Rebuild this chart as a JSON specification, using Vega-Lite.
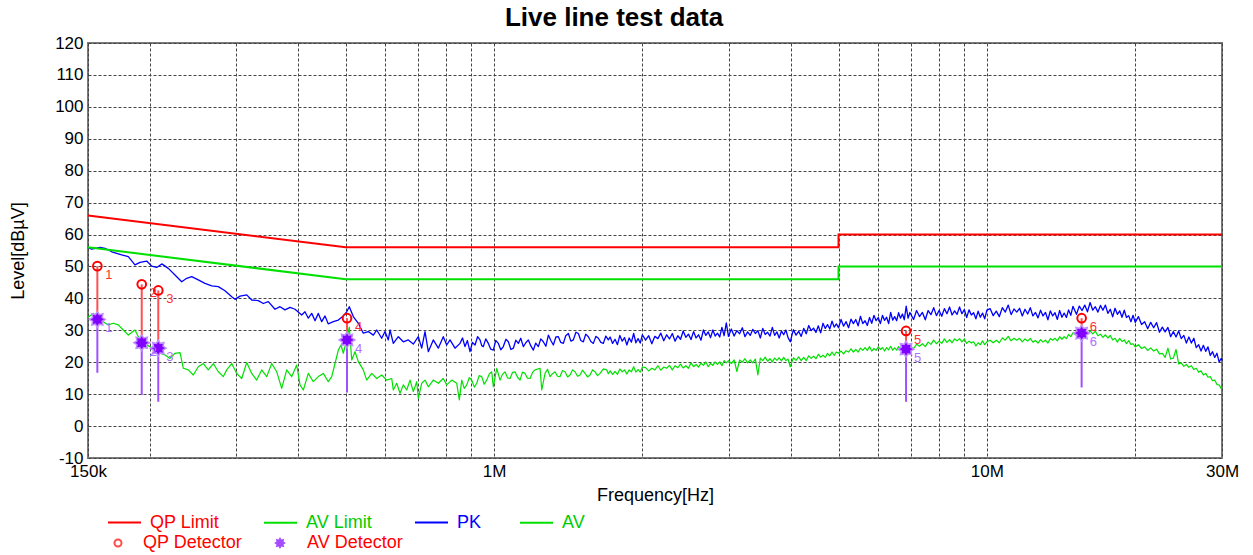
{
  "$schema": "https://vega.github.io/schema/vega-lite/v6.json",
  "width": 1134,
  "height": 415,
  "autosize": {"type": "none"},
  "padding": {"left": 88, "top": 43, "right": 31, "bottom": 97},
  "background": "white",
  "title": {"text": "Live line test data", "fontSize": 26, "font": "Liberation Sans", "fontWeight": "bold", "color": "#000000", "anchor": "middle", "frame": "group", "dx": -41, "offset": 3},
  "config": {
    "view": {"stroke": "#7a7a7a", "strokeWidth": 2},
    "font": "Liberation Sans",
    "axis": {"grid": true, "gridDash": [3, 2], "gridColor": "#444444", "gridOpacity": 1, "gridWidth": 1, "ticks": false, "domain": false, "labelFont": "Liberation Sans", "labelFontSize": 17, "labelColor": "#000000", "titleFont": "Liberation Sans", "titleFontSize": 18, "titleFontWeight": "normal", "titleColor": "#000000"},
    "legend": {"labelFont": "Liberation Sans", "labelFontSize": 18, "title": null, "padding": 0, "orient": "none", "direction": "horizontal"}
  },
  "datasets": {
    "lim": [
      {"s": "QP Limit", "i": 0, "f": 0.15, "v": 66}, {"s": "QP Limit", "i": 1, "f": 0.5, "v": 56}, {"s": "QP Limit", "i": 2, "f": 5, "v": 56}, {"s": "QP Limit", "i": 3, "f": 5, "v": 60}, {"s": "QP Limit", "i": 4, "f": 30, "v": 60},
      {"s": "AV Limit", "i": 0, "f": 0.15, "v": 56}, {"s": "AV Limit", "i": 1, "f": 0.5, "v": 46}, {"s": "AV Limit", "i": 2, "f": 5, "v": 46}, {"s": "AV Limit", "i": 3, "f": 5, "v": 50}, {"s": "AV Limit", "i": 4, "f": 30, "v": 50}
    ],
    "det": [
      {"n": "1", "f": 0.1567, "qp": 50.1, "av": 33.4, "lo": 16.7},
      {"n": "2", "f": 0.1928, "qp": 44.4, "av": 26.1, "lo": 9.7},
      {"n": "3", "f": 0.2083, "qp": 42.5, "av": 24.4, "lo": 7.6},
      {"n": "4", "f": 0.5031, "qp": 33.8, "av": 27.0, "lo": 10.5},
      {"n": "5", "f": 6.855, "qp": 29.8, "av": 24.1, "lo": 7.6},
      {"n": "6", "f": 15.57, "qp": 33.8, "av": 29.1, "lo": 12.1}
    ],
    "tr": [
      {"f":0.15,"p":56.0},{"f":0.1526,"p":55.4},{"f":0.1587,"p":56.0},{"f":0.1624,"p":55.7},{"f":0.1676,"p":54.6},{"f":0.1756,"p":53.6},{"f":0.1811,"p":53.1},{"f":0.1868,"p":50.5},{"f":0.1913,"p":51.3},{"f":0.1973,"p":51.7},{"f":0.202,"p":50.1},{"f":0.2068,"p":49.7},{"f":0.2117,"p":50.8},{"f":0.2183,"p":49.4},{"f":0.2252,"p":47.3},{"f":0.2324,"p":45.2},{"f":0.2379,"p":46.3},{"f":0.2435,"p":46.8},{"f":0.2511,"p":45.8},{"f":0.2591,"p":44.7},{"f":0.2674,"p":43.9},{"f":0.2757,"p":43.7},{"f":0.2845,"p":42.4},{"f":0.2936,"p":40.5},{"f":0.2981,"p":39.7},{"f":0.3052,"p":40.7},{"f":0.3149,"p":41.1},{"f":0.3223,"p":39.5},{"f":0.3324,"p":39.3},{"f":0.3403,"p":38.4},{"f":0.3483,"p":39.0},{"f":0.3594,"p":36.6},{"f":0.3679,"p":37.4},{"f":0.3766,"p":36.4},{"f":0.3855,"p":37.2},{"f":0.3946,"p":36.6},{"f":0.4071,"p":34.8},{"f":0.4134,"p":35.8},{"f":0.4199,"p":33.8},{"f":0.4266,"p":35.3},{"f":0.4333,"p":33.0},{"f":0.44,"p":35.3},{"f":0.447,"p":32.7},{"f":0.454,"p":34.5},{"f":0.461,"p":32.0},{"f":0.4719,"p":32.7},{"f":0.4831,"p":33.2},{"f":0.4945,"p":34.5},{"f":0.5024,"p":35.8},{"f":0.5085,"p":37.4},{"f":0.5181,"p":34.3},{"f":0.5304,"p":32.2},{"f":0.5429,"p":29.1},{"f":0.5557,"p":29.6},{"f":0.5689,"p":28.5},{"f":0.578,"p":30.1},{"f":0.5916,"p":27.5},{"f":0.6008,"p":29.6},{"f":0.6102,"p":27.0},{"f":0.6151,"p":30.1},{"f":0.6246,"p":25.9},{"f":0.6394,"p":28.0},{"f":0.6545,"p":26.4},{"f":0.6699,"p":27.0},{"f":0.6858,"p":25.7},{"f":0.702,"p":28.0},{"f":0.7132,"p":24.4},{"f":0.7243,"p":29.6},{"f":0.7356,"p":23.3},{"f":0.7529,"p":27.0},{"f":0.7707,"p":24.4},{"f":0.7889,"p":28.0},{"f":0.8016,"p":25.4},{"f":0.8141,"p":27.0},{"f":0.8333,"p":24.4},{"f":0.853,"p":25.9},{"f":0.863,"p":27.6},{"f":0.8731,"p":24.9},{"f":0.883,"p":26.8},{"f":0.8938,"p":23.3},{"f":0.904,"p":26.2},{"f":0.915,"p":25.4},{"f":0.926,"p":28.0},{"f":0.9366,"p":27.0},{"f":0.944,"p":25.2},{"f":0.9511,"p":24.9},{"f":0.962,"p":27.3},{"f":0.9736,"p":25.9},{"f":0.985,"p":24.1},{"f":0.9966,"p":23.8},{"f":1.008,"p":26.8},{"f":1.0203,"p":25.9},{"f":1.032,"p":23.9},{"f":1.0444,"p":24.9},{"f":1.057,"p":27.2},{"f":1.0691,"p":26.4},{"f":1.082,"p":24.0},{"f":1.0944,"p":24.4},{"f":1.107,"p":26.9},{"f":1.1202,"p":25.9},{"f":1.133,"p":27.5},{"f":1.1467,"p":24.9},{"f":1.16,"p":26.1},{"f":1.1738,"p":27.0},{"f":1.187,"p":25.2},{"f":1.2016,"p":23.8},{"f":1.215,"p":26.0},{"f":1.23,"p":24.9},{"f":1.244,"p":27.3},{"f":1.259,"p":26.4},{"f":1.274,"p":25.0},{"f":1.2888,"p":28.5},{"f":1.304,"p":26.8},{"f":1.3193,"p":25.4},{"f":1.335,"p":27.9},{"f":1.3505,"p":28.0},{"f":1.366,"p":26.2},{"f":1.3824,"p":25.9},{"f":1.398,"p":28.3},{"f":1.4151,"p":29.0},{"f":1.432,"p":26.6},{"f":1.4485,"p":27.0},{"f":1.466,"p":29.4},{"f":1.4828,"p":29.0},{"f":1.5,"p":26.8},{"f":1.5178,"p":26.4},{"f":1.535,"p":28.8},{"f":1.5537,"p":28.0},{"f":1.572,"p":26.5},{"f":1.5904,"p":25.9},{"f":1.609,"p":28.1},{"f":1.628,"p":27.5},{"f":1.647,"p":26.2},{"f":1.6664,"p":25.9},{"f":1.686,"p":28.2},{"f":1.7058,"p":27.0},
      {"f":0.15,"a":34.1},{"f":0.1538,"a":35.3},{"f":0.1574,"a":33.7},{"f":0.1611,"a":32.7},{"f":0.1649,"a":31.7},{"f":0.1688,"a":32.2},{"f":0.1728,"a":31.7},{"f":0.1769,"a":30.1},{"f":0.1811,"a":28.5},{"f":0.1868,"a":30.1},{"f":0.1898,"a":28.0},{"f":0.1942,"a":25.9},{"f":0.2004,"a":24.9},{"f":0.2051,"a":23.3},{"f":0.21,"a":22.8},{"f":0.215,"a":22.3},{"f":0.22,"a":21.2},{"f":0.2252,"a":22.8},{"f":0.2306,"a":23.0},{"f":0.2342,"a":18.1},{"f":0.2397,"a":17.6},{"f":0.2453,"a":16.0},{"f":0.2511,"a":18.6},{"f":0.2571,"a":19.6},{"f":0.2631,"a":17.6},{"f":0.2694,"a":19.6},{"f":0.2757,"a":17.0},{"f":0.2823,"a":15.5},{"f":0.2868,"a":17.6},{"f":0.2936,"a":19.6},{"f":0.3005,"a":16.5},{"f":0.3076,"a":14.9},{"f":0.3149,"a":19.9},{"f":0.3223,"a":16.5},{"f":0.3299,"a":14.4},{"f":0.3377,"a":17.6},{"f":0.3457,"a":15.5},{"f":0.3539,"a":19.6},{"f":0.3623,"a":17.0},{"f":0.3708,"a":11.8},{"f":0.3796,"a":17.6},{"f":0.3886,"a":15.5},{"f":0.3977,"a":19.1},{"f":0.4039,"a":12.9},{"f":0.4102,"a":11.3},{"f":0.4199,"a":16.5},{"f":0.4298,"a":13.9},{"f":0.44,"a":15.5},{"f":0.4504,"a":16.5},{"f":0.461,"a":13.9},{"f":0.4684,"a":15.5},{"f":0.4757,"a":19.6},{"f":0.4831,"a":23.8},{"f":0.4892,"a":25.4},{"f":0.4945,"a":22.8},{"f":0.5024,"a":27.0},{"f":0.5085,"a":31.0},{"f":0.5143,"a":20.7},{"f":0.5223,"a":23.3},{"f":0.5304,"a":20.2},{"f":0.5429,"a":17.6},{"f":0.5516,"a":14.4},{"f":0.5647,"a":16.5},{"f":0.578,"a":14.9},{"f":0.5916,"a":16.0},{"f":0.6057,"a":14.4},{"f":0.62,"a":14.9},{"f":0.6246,"a":11.3},{"f":0.6346,"a":13.4},{"f":0.6445,"a":10.3},{"f":0.6545,"a":12.9},{"f":0.665,"a":11.3},{"f":0.6753,"a":14.4},{"f":0.6858,"a":10.8},{"f":0.6968,"a":13.9},{"f":0.702,"a":8.7},{"f":0.7132,"a":13.4},{"f":0.7243,"a":14.4},{"f":0.7356,"a":12.3},{"f":0.7529,"a":14.4},{"f":0.7707,"a":13.4},{"f":0.7889,"a":14.9},{"f":0.8016,"a":12.9},{"f":0.8206,"a":14.4},{"f":0.84,"a":13.4},{"f":0.8503,"a":8.2},{"f":0.8599,"a":14.4},{"f":0.87,"a":11.8},{"f":0.8802,"a":12.9},{"f":0.891,"a":15.2},{"f":0.901,"a":14.4},{"f":0.912,"a":12.2},{"f":0.9223,"a":13.4},{"f":0.933,"a":15.8},{"f":0.9441,"a":15.5},{"f":0.955,"a":13.1},{"f":0.9664,"a":14.4},{"f":0.978,"a":16.3},{"f":0.9893,"a":17.0},{"f":0.9966,"a":12.3},{"f":1.0127,"a":18.1},{"f":1.0284,"a":14.4},{"f":1.04,"a":16.2},{"f":1.0527,"a":17.0},{"f":1.065,"a":15.1},{"f":1.0776,"a":14.9},{"f":1.09,"a":16.8},{"f":1.1031,"a":17.0},{"f":1.116,"a":15.3},{"f":1.1292,"a":14.4},{"f":1.142,"a":16.9},{"f":1.1559,"a":16.5},{"f":1.169,"a":15.0},{"f":1.1832,"a":14.9},{"f":1.197,"a":16.8},{"f":1.2112,"a":17.6},{"f":1.2398,"a":18.1},{"f":1.2497,"a":11.3},{"f":1.2691,"a":16.5},{"f":1.284,"a":17.8},{"f":1.2991,"a":15.5},{"f":1.314,"a":16.4},{"f":1.3298,"a":17.0},{"f":1.345,"a":15.6},{"f":1.3612,"a":15.5},{"f":1.377,"a":17.4},{"f":1.3934,"a":17.0},{"f":1.41,"a":15.4},{"f":1.4264,"a":16.0},{"f":1.443,"a":17.6},{"f":1.46,"a":17.0},{"f":1.477,"a":15.6},{"f":1.4946,"a":16.0},{"f":1.512,"a":17.5},{"f":1.5299,"a":16.5},{"f":1.548,"a":15.4},{"f":1.5661,"a":16.0},{"f":1.585,"a":17.6},{"f":1.6031,"a":17.0},{"f":1.622,"a":15.8},{"f":1.641,"a":16.5},{"f":1.667,"a":17.9},{"f":1.6931,"a":17.6},{"f":1.706,"a":16.4},
      {"f":1.72,"p":27.9,"a":17.3},{"f":1.74,"p":25.9,"a":16.2},{"f":1.76,"p":27.2,"a":17.1},{"f":1.78,"p":25.5,"a":16.2},{"f":1.8,"p":28.4,"a":17.9},{"f":1.82,"p":26.6,"a":17.0},{"f":1.84,"p":27.7,"a":17.6},{"f":1.86,"p":25.4,"a":16.3},{"f":1.88,"p":27.6,"a":17.6},{"f":1.9,"p":26.3,"a":17.0},{"f":1.92,"p":29.0,"a":18.6},{"f":1.94,"p":26.1,"a":16.9},{"f":1.96,"p":27.4,"a":17.7},{"f":1.98,"p":26.0,"a":16.9},{"f":2.0,"p":28.6,"a":18.5},
      {"f":2.03,"p":26.9,"a":18.3},{"f":2.06,"p":28.3,"a":17.3},{"f":2.09,"p":25.8,"a":18.1},{"f":2.12,"p":28.1,"a":17.6},{"f":2.15,"p":27.4,"a":18.9},{"f":2.18,"p":29.1,"a":17.5},{"f":2.21,"p":26.7,"a":18.5},{"f":2.24,"p":28.6,"a":18.1},{"f":2.27,"p":27.3,"a":19.0},{"f":2.3,"p":29.0,"a":17.6},{"f":2.33,"p":26.6,"a":18.9},{"f":2.36,"p":28.3,"a":18.3},{"f":2.39,"p":27.2,"a":19.4},{"f":2.42,"p":29.8,"a":18.2},{"f":2.45,"p":27.8,"a":18.9},{"f":2.48,"p":28.8,"a":18.1},{"f":2.51,"p":27.1,"a":19.8},{"f":2.54,"p":29.6,"a":18.6},{"f":2.57,"p":27.6,"a":19.3},{"f":2.6,"p":28.6,"a":18.5},{"f":2.63,"p":26.9,"a":19.7},{"f":2.66,"p":30.1,"a":19.0},{"f":2.69,"p":28.4,"a":20.1},{"f":2.72,"p":29.5,"a":18.6},{"f":2.75,"p":27.7,"a":19.6},{"f":2.78,"p":30.1,"a":19.0},{"f":2.81,"p":28.2,"a":20.1},{"f":2.84,"p":29.1,"a":19.3},{"f":2.87,"p":27.9,"a":20.1},{"f":2.9,"p":30.9,"a":18.9},{"f":2.93,"p":28.3,"a":20.5},{"f":2.96,"p":32.3,"a":19.8},{"f":2.99,"p":28.1,"a":20.5},
      {"f":3.03,"p":30.4,"a":19.6},{"f":3.07,"p":28.2,"a":20.7},{"f":3.11,"p":29.9,"a":17.1},{"f":3.15,"p":28.9,"a":20.7},{"f":3.19,"p":30.8,"a":20.0},{"f":3.23,"p":28.0,"a":21.1},{"f":3.27,"p":29.5,"a":19.8},{"f":3.31,"p":28.4,"a":20.7},{"f":3.35,"p":30.3,"a":19.8},{"f":3.39,"p":29.0,"a":21.0},{"f":3.43,"p":29.9,"a":16.0},{"f":3.47,"p":27.6,"a":21.3},{"f":3.51,"p":30.6,"a":20.5},{"f":3.55,"p":28.7,"a":21.6},{"f":3.59,"p":29.4,"a":20.3},{"f":3.63,"p":28.2,"a":21.1},{"f":3.67,"p":30.9,"a":20.1},{"f":3.71,"p":28.4,"a":21.3},{"f":3.75,"p":29.5,"a":20.6},{"f":3.79,"p":27.6,"a":21.4},{"f":3.83,"p":29.8,"a":20.4},{"f":3.87,"p":28.6,"a":21.5},{"f":3.91,"p":30.1,"a":20.5},{"f":3.95,"p":27.7,"a":21.0},{"f":3.99,"p":26.4,"a":18.6},
      {"f":4.05,"p":30.2,"a":21.4},{"f":4.1,"p":28.5,"a":20.6},{"f":4.15,"p":29.7,"a":21.7},{"f":4.2,"p":28.1,"a":20.5},{"f":4.25,"p":30.6,"a":21.5},{"f":4.3,"p":28.9,"a":20.5},{"f":4.35,"p":31.5,"a":22.0},{"f":4.4,"p":29.9,"a":21.2},{"f":4.45,"p":30.7,"a":21.9},{"f":4.5,"p":29.3,"a":21.1},{"f":4.55,"p":31.4,"a":22.5},{"f":4.6,"p":29.2,"a":21.6},{"f":4.65,"p":32.2,"a":22.2},{"f":4.7,"p":30.6,"a":21.5},{"f":4.75,"p":31.8,"a":22.8},{"f":4.8,"p":30.4,"a":22.0},{"f":4.85,"p":32.9,"a":23.2},{"f":4.9,"p":31.0,"a":22.1},{"f":4.95,"p":32.0,"a":23.2},{"f":5.0,"p":30.8,"a":22.8},
      {"f":5.06,"p":33.4,"a":23.5},{"f":5.12,"p":31.3,"a":22.6},{"f":5.18,"p":32.7,"a":23.6},{"f":5.24,"p":30.8,"a":23.2},{"f":5.3,"p":33.5,"a":24.2},{"f":5.36,"p":32.1,"a":23.2},{"f":5.42,"p":33.4,"a":24.0},{"f":5.48,"p":31.4,"a":23.2},{"f":5.54,"p":34.4,"a":24.4},{"f":5.6,"p":32.1,"a":23.7},{"f":5.66,"p":33.0,"a":24.6},{"f":5.72,"p":31.5,"a":23.7},{"f":5.78,"p":34.0,"a":24.9},{"f":5.84,"p":32.2,"a":23.5},{"f":5.9,"p":34.7,"a":24.3},{"f":5.96,"p":33.0,"a":23.7},{"f":6.02,"p":34.0,"a":24.8},{"f":6.08,"p":32.1,"a":24.0},{"f":6.14,"p":34.7,"a":24.6},{"f":6.2,"p":33.1,"a":23.5},{"f":6.26,"p":34.1,"a":24.6},{"f":6.32,"p":32.1,"a":23.9},{"f":6.38,"p":35.6,"a":25.0},{"f":6.44,"p":33.2,"a":23.8},{"f":6.5,"p":34.3,"a":24.5},{"f":6.56,"p":33.0,"a":23.8},{"f":6.62,"p":35.5,"a":24.9},{"f":6.68,"p":33.8,"a":24.1},{"f":6.74,"p":35.1,"a":25.1},{"f":6.8,"p":33.3,"a":24.3},{"f":6.86,"p":37.6,"a":24.9},{"f":6.92,"p":33.8,"a":24.1},{"f":6.98,"p":35.6,"a":24.9},
      {"f":7.1,"p":33.4,"a":24.3},{"f":7.2,"p":36.2,"a":25.6},{"f":7.3,"p":34.3,"a":25.0},{"f":7.4,"p":35.6,"a":25.8},{"f":7.5,"p":33.3,"a":24.9},{"f":7.6,"p":36.2,"a":26.3},{"f":7.7,"p":34.9,"a":25.6},{"f":7.8,"p":37.1,"a":26.9},{"f":7.9,"p":34.6,"a":25.8},{"f":8.0,"p":36.2,"a":26.6},{"f":8.1,"p":34.4,"a":25.9},{"f":8.2,"p":36.8,"a":27.3},{"f":8.3,"p":35.2,"a":26.2},{"f":8.4,"p":37.3,"a":27.1},{"f":8.5,"p":34.8,"a":26.1},{"f":8.6,"p":36.1,"a":27.3},{"f":8.7,"p":35.0,"a":26.7},{"f":8.8,"p":37.3,"a":27.4},{"f":8.9,"p":35.2,"a":26.4},{"f":9.0,"p":36.5,"a":27.3},{"f":9.1,"p":34.0,"a":25.9},{"f":9.2,"p":36.4,"a":26.6},{"f":9.3,"p":34.8,"a":26.0},{"f":9.4,"p":35.5,"a":26.4},{"f":9.5,"p":33.6,"a":25.1},{"f":9.6,"p":36.0,"a":26.1},{"f":9.7,"p":34.1,"a":25.5},{"f":9.8,"p":35.4,"a":26.7},{"f":9.9,"p":33.6,"a":25.5},{"f":10.0,"p":36.3,"a":26.4},
      {"f":10.15,"p":36.8,"a":26.9},{"f":10.3,"p":34.6,"a":26.1},{"f":10.45,"p":36.0,"a":26.9},{"f":10.6,"p":34.3,"a":26.1},{"f":10.75,"p":37.1,"a":27.6},{"f":10.9,"p":35.7,"a":26.9},{"f":11.05,"p":37.9,"a":28.1},{"f":11.2,"p":34.9,"a":26.7},{"f":11.35,"p":36.7,"a":27.5},{"f":11.5,"p":35.7,"a":26.9},{"f":11.65,"p":36.9,"a":27.5},{"f":11.8,"p":34.5,"a":26.4},{"f":11.95,"p":36.6,"a":27.3},{"f":12.1,"p":35.1,"a":26.6},{"f":12.25,"p":37.1,"a":27.5},{"f":12.4,"p":34.5,"a":26.3},{"f":12.55,"p":35.6,"a":26.8},{"f":12.7,"p":33.9,"a":26.0},{"f":12.85,"p":36.3,"a":27.1},{"f":13.0,"p":34.5,"a":26.3},{"f":13.15,"p":35.6,"a":26.9},{"f":13.3,"p":33.3,"a":26.0},{"f":13.45,"p":36.1,"a":27.4},{"f":13.6,"p":34.5,"a":26.9},{"f":13.75,"p":35.5,"a":27.5},{"f":13.9,"p":33.4,"a":26.7},{"f":14.05,"p":36.2,"a":28.0},{"f":14.2,"p":34.1,"a":27.2},{"f":14.35,"p":35.4,"a":28.0},{"f":14.5,"p":34.0,"a":27.4},{"f":14.65,"p":36.4,"a":28.7},{"f":14.8,"p":34.7,"a":28.0},{"f":14.95,"p":37.5,"a":29.2},
      {"f":15.2,"p":35.0,"a":28.4},{"f":15.4,"p":37.6,"a":29.5},{"f":15.6,"p":36.2,"a":28.9},{"f":15.8,"p":37.9,"a":29.9},{"f":16.0,"p":35.8,"a":28.8},{"f":16.2,"p":38.7,"a":29.8},{"f":16.4,"p":36.3,"a":28.9},{"f":16.6,"p":37.4,"a":29.7},{"f":16.8,"p":35.7,"a":28.3},{"f":17.0,"p":37.8,"a":28.8},{"f":17.2,"p":36.3,"a":27.8},{"f":17.4,"p":37.9,"a":28.6},{"f":17.6,"p":35.3,"a":27.6},{"f":17.8,"p":36.6,"a":28.4},{"f":18.0,"p":34.2,"a":27.0},{"f":18.2,"p":36.9,"a":27.5},{"f":18.4,"p":35.0,"a":26.3},{"f":18.6,"p":36.1,"a":27.5},{"f":18.8,"p":34.1,"a":26.5},{"f":19.0,"p":36.3,"a":27.0},{"f":19.2,"p":34.0,"a":25.8},{"f":19.4,"p":34.6,"a":26.8},{"f":19.6,"p":32.7,"a":25.6},{"f":19.8,"p":34.7,"a":25.8},{"f":20.0,"p":32.5,"a":24.8},
      {"f":20.3,"p":34.3,"a":25.5},{"f":20.6,"p":31.8,"a":24.3},{"f":20.9,"p":32.7,"a":24.8},{"f":21.2,"p":30.5,"a":23.7},{"f":21.5,"p":32.5,"a":24.5},{"f":21.8,"p":30.8,"a":23.5},{"f":22.1,"p":32.4,"a":24.1},{"f":22.4,"p":29.4,"a":22.6},{"f":22.7,"p":31.0,"a":22.8},{"f":23.0,"p":29.5,"a":21.5},{"f":23.3,"p":30.9,"a":24.4},{"f":23.6,"p":28.0,"a":21.0},{"f":23.9,"p":29.6,"a":21.3},{"f":24.2,"p":27.9,"a":24.0},{"f":24.5,"p":29.8,"a":19.5},{"f":24.8,"p":27.4,"a":19.8},{"f":25.1,"p":28.4,"a":18.7},{"f":25.4,"p":26.0,"a":19.3},{"f":25.7,"p":27.9,"a":18.4},{"f":26.0,"p":26.0,"a":18.9},{"f":26.3,"p":27.5,"a":17.7},{"f":26.6,"p":24.6,"a":18.1},{"f":26.9,"p":25.5,"a":16.9},{"f":27.2,"p":23.5,"a":17.3},{"f":27.5,"p":25.3,"a":16.0},{"f":27.8,"p":23.4,"a":16.5},{"f":28.1,"p":24.8,"a":15.3},{"f":28.4,"p":22.1,"a":15.5},{"f":28.7,"p":23.3,"a":14.2},{"f":29.0,"p":21.5,"a":14.4},{"f":29.3,"p":22.8,"a":13.0},{"f":29.6,"p":20.1,"a":12.9},{"f":29.9,"p":21.2,"a":11.7},{"f":30.0,"p":20.6,"a":11.8}
    ]
  },
  "layer": [
    {
      "data": {"name": "tr"},
      "transform": [{"filter": "isValid(datum.p)"}],
      "mark": {"type": "line", "strokeWidth": 1.3, "strokeJoin": "round", "color": "#0000ff"},
      "encoding": {
        "x": {"field": "f", "type": "quantitative", "scale": {"type": "log", "domain": [0.15, 30], "nice": false},
          "axis": {"title": "Frequency[Hz]", "values": [0.15, 0.2, 0.3, 0.4, 0.5, 0.6, 0.7, 0.8, 0.9, 1, 2, 3, 4, 5, 6, 7, 8, 9, 10, 20, 30], "tickCount": 40,
            "labelExpr": "datum.value == 0.15 ? '150k' : datum.value == 1 ? '1M' : datum.value == 10 ? '10M' : datum.value == 30 ? '30M' : ''",
            "labelFlush": false, "labelOverlap": false, "labelBound": false, "labelPadding": 5, "titlePadding": 7}},
        "y": {"field": "p", "type": "quantitative", "scale": {"domain": [-10, 120], "nice": false, "zero": false},
          "axis": {"title": "Level[dBµV]", "values": [-10, 0, 10, 20, 30, 40, 50, 60, 70, 80, 90, 100, 110, 120], "tickCount": 20, "labelExpr": "replace(datum.label, '−', '-')", "labelOverlap": false, "labelPadding": 5, "titlePadding": 27}}
      }
    },
    {
      "data": {"name": "tr"},
      "transform": [{"filter": "isValid(datum.a)"}],
      "mark": {"type": "line", "strokeWidth": 1.2, "strokeJoin": "round", "color": "#00e000"},
      "encoding": {
        "x": {"field": "f", "type": "quantitative"},
        "y": {"field": "a", "type": "quantitative"}
      }
    },
    {
      "data": {"name": "lim"},
      "transform": [{"filter": "datum.s == 'QP Limit'"}],
      "mark": {"type": "line", "strokeWidth": 2, "color": "#ff0000"},
      "encoding": {
        "x": {"field": "f", "type": "quantitative"},
        "y": {"field": "v", "type": "quantitative"},
        "order": {"field": "i", "type": "quantitative"}
      }
    },
    {
      "data": {"name": "lim"},
      "transform": [{"filter": "datum.s == 'AV Limit'"}],
      "mark": {"type": "line", "strokeWidth": 2, "color": "#00e000"},
      "encoding": {
        "x": {"field": "f", "type": "quantitative"},
        "y": {"field": "v", "type": "quantitative"},
        "order": {"field": "i", "type": "quantitative"}
      }
    },
    {
      "data": {"name": "det"},
      "mark": {"type": "rule", "color": "#ff5050", "strokeWidth": 2},
      "encoding": {
        "x": {"field": "f", "type": "quantitative"},
        "y": {"field": "qp", "type": "quantitative"},
        "y2": {"field": "av"}
      }
    },
    {
      "data": {"name": "det"},
      "mark": {"type": "rule", "color": "#a050ff", "strokeWidth": 2},
      "encoding": {
        "x": {"field": "f", "type": "quantitative"},
        "y": {"field": "av", "type": "quantitative"},
        "y2": {"field": "lo"}
      }
    },
    {
      "data": {"name": "det"},
      "mark": {"type": "point", "shape": "circle", "filled": false, "color": "#ff0000", "strokeWidth": 2, "size": 75, "opacity": 1},
      "encoding": {
        "x": {"field": "f", "type": "quantitative"},
        "y": {"field": "qp", "type": "quantitative"}
      }
    },
    {
      "data": {"name": "det"},
      "mark": {"type": "point", "shape": "M1,0L0.6,0.25L0.707,0.707L0.25,0.6L0,1L-0.25,0.6L-0.707,0.707L-0.6,0.25L-1,0L-0.6,-0.25L-0.707,-0.707L-0.25,-0.6L0,-1L0.25,-0.6L0.707,-0.707L0.6,-0.25Z", "filled": true, "color": "#8000ff", "stroke": "#c08cff", "strokeWidth": 1.5, "size": 250, "opacity": 1},
      "encoding": {
        "x": {"field": "f", "type": "quantitative"},
        "y": {"field": "av", "type": "quantitative"}
      }
    },
    {
      "data": {"name": "det"},
      "mark": {"type": "text", "color": "#ff3030", "fontSize": 13, "align": "left", "dx": 8, "dy": 9, "font": "Liberation Sans"},
      "encoding": {
        "x": {"field": "f", "type": "quantitative"},
        "y": {"field": "qp", "type": "quantitative"},
        "text": {"field": "n"}
      }
    },
    {
      "data": {"name": "det"},
      "mark": {"type": "text", "color": "#b070ff", "fontSize": 13, "align": "left", "dx": 8, "dy": 9, "font": "Liberation Sans"},
      "encoding": {
        "x": {"field": "f", "type": "quantitative"},
        "y": {"field": "av", "type": "quantitative"},
        "text": {"field": "n"}
      }
    },
    {
      "data": {"name": "det"},
      "transform": [{"filter": "false"}],
      "mark": {"type": "line", "color": "#ff0000", "strokeWidth": 2},
      "encoding": {
        "x": {"field": "f", "type": "quantitative"},
        "y": {"field": "qp", "type": "quantitative"},
        "strokeDash": {"datum": "QP Limit", "type": "nominal", "title": null, "scale": {"domain": ["QP Limit"], "range": [[1, 0]]},
          "legend": {"orient": "none", "legendX": 19, "legendY": 462, "title": null, "padding": 0, "symbolType": "stroke", "symbolSize": 1089, "symbolStrokeWidth": 2, "symbolStrokeColor": "#ff0000", "labelFontSize": 18, "labelOffset": 8, "labelColor": "#ff0000"}}
      }
    },
    {
      "data": {"name": "det"},
      "transform": [{"filter": "false"}],
      "mark": {"type": "line", "strokeWidth": 2},
      "encoding": {
        "x": {"field": "f", "type": "quantitative"},
        "y": {"field": "qp", "type": "quantitative"},
        "color": {"datum": "AV Limit", "type": "nominal", "title": null, "scale": {"domain": ["AV Limit", "zz", "AV"], "range": ["#00e000", "rgba(0,0,0,0)", "#00e000"]},
          "legend": {"orient": "none", "legendX": 175, "legendY": 462, "direction": "horizontal", "columns": 3, "title": null, "padding": 0, "symbolType": "stroke", "symbolSize": 1089, "symbolStrokeWidth": 2, "labelFontSize": 18, "labelOffset": 8, "columnPadding": 49, "labelColor": "#00cc00", "labelExpr": "datum.label == 'zz' ? '' : datum.label"}}
      }
    },
    {
      "data": {"name": "det"},
      "transform": [{"filter": "false"}],
      "mark": {"type": "line", "strokeWidth": 2},
      "encoding": {
        "x": {"field": "f", "type": "quantitative"},
        "y": {"field": "qp", "type": "quantitative"},
        "stroke": {"datum": "PK", "type": "nominal", "title": null, "scale": {"domain": ["PK"], "range": ["#0000ff"]},
          "legend": {"orient": "none", "legendX": 326, "legendY": 462, "title": null, "padding": 0, "symbolType": "stroke", "symbolSize": 1089, "symbolStrokeWidth": 2, "labelFontSize": 18, "labelOffset": 8, "labelColor": "#0000ff"}}
      }
    },
    {
      "data": {"name": "det"},
      "transform": [{"filter": "false"}],
      "mark": {"type": "point", "filled": false, "color": "#ff0000", "strokeWidth": 2},
      "encoding": {
        "x": {"field": "f", "type": "quantitative"},
        "y": {"field": "qp", "type": "quantitative"},
        "shape": {"datum": "QP Detector", "type": "nominal", "title": null, "scale": {"domain": ["QP Detector"], "range": ["circle"]},
          "legend": {"orient": "none", "legendX": 21, "legendY": 491, "title": null, "padding": 0, "symbolSize": 49, "symbolStrokeWidth": 2, "symbolStrokeColor": "#ff0000", "symbolFillColor": "transparent", "labelFontSize": 18, "labelOffset": 16, "labelColor": "#ff0000"}}
      }
    },
    {
      "data": {"name": "det"},
      "transform": [{"filter": "false"}],
      "mark": {"type": "point", "filled": true, "strokeWidth": 0},
      "encoding": {
        "x": {"field": "f", "type": "quantitative"},
        "y": {"field": "qp", "type": "quantitative"},
        "fill": {"datum": "AV Detector", "type": "nominal", "title": null, "scale": {"domain": ["AV Detector"], "range": ["#8000ff"]},
          "legend": {"orient": "none", "legendX": 183, "legendY": 491, "title": null, "padding": 0, "symbolType": "M1,0L0.6,0.25L0.707,0.707L0.25,0.6L0,1L-0.25,0.6L-0.707,0.707L-0.6,0.25L-1,0L-0.6,-0.25L-0.707,-0.707L-0.25,-0.6L0,-1L0.25,-0.6L0.707,-0.707L0.6,-0.25Z", "symbolSize": 140, "labelFontSize": 18, "labelOffset": 18, "labelColor": "#ff0000"}}
      }
    }
  ]
}
